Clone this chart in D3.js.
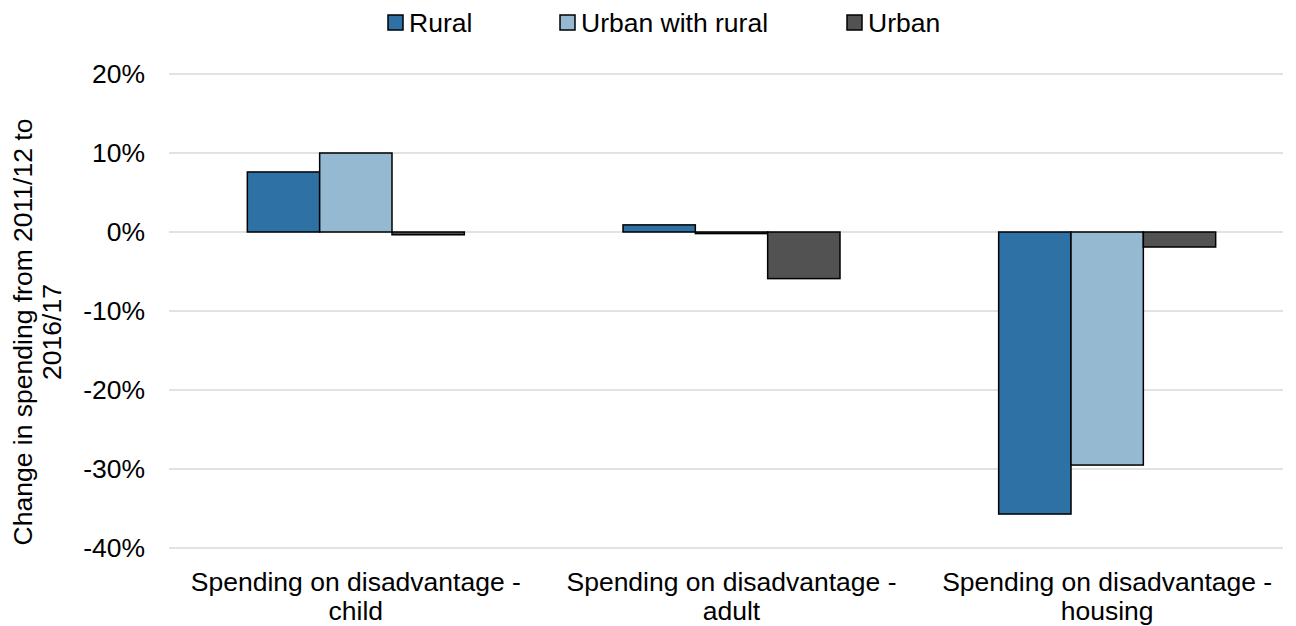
<!DOCTYPE html>
<html>
<head>
<meta charset="utf-8">
<script src="https://cdn.jsdelivr.net/npm/d3@7"></script>
<style>
  body { margin: 0; background: #fff; }
  text { font-family: "Liberation Sans", Arial, sans-serif; fill: #000; }
</style>
</head>
<body>
<svg id="chart" width="1296" height="626"></svg>
<script>
// categories and series (percent change)
const categories = [
  ['Spending on disadvantage -', 'child'],
  ['Spending on disadvantage -', 'adult'],
  ['Spending on disadvantage -', 'housing']
];
const seriesNames = ['Rural', 'Urban with rural', 'Urban'];
const rural = [7.6, 0.9, -35.7];
const urbanWithRural = [10.0, -0.2, -29.5];
const urban = [-0.35, -5.9, -1.9];
const yTicks = [20, 10, 0, -10, -20, -30, -40];
const colors = ['#2e71a5', '#96b9d2', '#525252'];

const values = [rural, urbanWithRural, urban];
const svg = d3.select('#chart');
const m = { left: 169, right: 1283, top: 74, bottom: 548 };
const fs = '26.5px';

// category bands run a little past the last gridline, as in the source
const x0 = d3.scaleBand().domain(d3.range(categories.length))
  .range([168, 1295]).paddingInner(0).paddingOuter(0);
const groupW = 217;
const x1 = d3.scaleBand().domain(d3.range(seriesNames.length)).range([0, groupW]);
const y = d3.scaleLinear().domain([-40, 20]).range([m.bottom, m.top]);

// gridlines
svg.append('g').selectAll('line').data(yTicks).join('line')
  .attr('x1', m.left).attr('x2', m.right)
  .attr('y1', d => y(d)).attr('y2', d => y(d))
  .attr('stroke', '#d9d9d9').attr('stroke-width', 1.5);

// y tick labels
svg.append('g').selectAll('text').data(yTicks).join('text')
  .attr('x', 145).attr('y', d => y(d)).attr('dy', '0.35em')
  .attr('text-anchor', 'end').style('font-size', fs)
  .text(d => d + '%');

// bars
const groups = svg.append('g').selectAll('g').data(categories).join('g')
  .attr('transform', (d, i) => `translate(${x0(i) + x0.bandwidth() / 2 - groupW / 2},0)`);
groups.selectAll('rect').data((d, i) => values.map((s, j) => ({ s: j, v: s[i] }))).join('rect')
  .attr('x', d => x1(d.s))
  .attr('width', x1.bandwidth())
  .attr('y', d => y(Math.max(0, d.v)))
  .attr('height', d => Math.abs(y(d.v) - y(0)))
  .attr('fill', d => colors[d.s])
  .attr('stroke', '#000').attr('stroke-width', 1.5);

// category labels
const cat = svg.append('g').selectAll('text').data(categories).join('text')
  .attr('text-anchor', 'middle').style('font-size', fs)
  .attr('transform', (d, i) => `translate(${x0(i) + x0.bandwidth() / 2},591)`);
cat.selectAll('tspan').data(d => d).join('tspan')
  .attr('x', 0).attr('dy', (d, i) => i === 0 ? 0 : 29).text(d => d);

// y axis title
const yt = svg.append('text').attr('text-anchor', 'middle').style('font-size', fs)
  .attr('transform', 'translate(32,332) rotate(-90)');
yt.append('tspan').attr('x', 0).attr('dy', 0).text('Change in spending from 2011/12 to');
yt.append('tspan').attr('x', 0).attr('dy', 29).text('2016/17');

// legend
const legX = [388, 560, 847];
const leg = svg.append('g').selectAll('g').data(seriesNames).join('g')
  .attr('transform', (d, i) => `translate(${legX[i]},15)`);
leg.append('rect').attr('width', 15).attr('height', 15)
  .attr('fill', (d, i) => colors[i]).attr('stroke', '#000').attr('stroke-width', 1.5);
leg.append('text').attr('x', 21).attr('y', 7.5).attr('dy', '0.35em')
  .style('font-size', fs).text(d => d);
</script>
</body>
</html>
